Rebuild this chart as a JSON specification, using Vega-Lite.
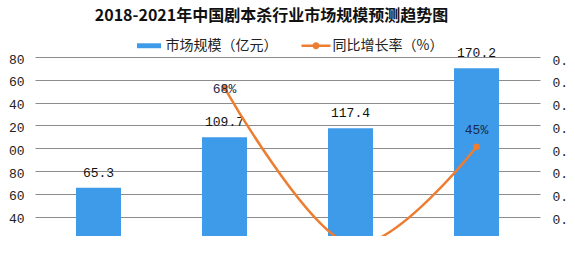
{
  "$schema": "https://vega.github.io/schema/vega-lite/v6.json",
  "width": 505,
  "height": 179,
  "autosize": {"type": "none"},
  "padding": {"left": 35, "top": 57, "right": 35, "bottom": 20},
  "background": "white",
  "config": {"view": {"stroke": null}, "font": "Noto Sans CJK SC"},
  "title": {
    "text": "2018-2021年中国剧本杀行业市场规模预测趋势图",
    "fontSize": 16,
    "fontWeight": "bold",
    "color": "#111111",
    "anchor": "middle",
    "dx": -16,
    "offset": 7
  },
  "data": {
    "values": [
      {"year": "2018", "scale": 65.3, "rate": null},
      {"year": "2019", "scale": 109.7, "rate": 0.68},
      {"year": "2020", "scale": 117.4, "rate": 0.07},
      {"year": "2021", "scale": 170.2, "rate": 0.45}
    ]
  },
  "encoding": {
    "x": {
      "field": "year",
      "type": "nominal",
      "axis": null,
      "scale": {"paddingInner": 0.643, "paddingOuter": 0.3255}
    }
  },
  "layer": [
    {
      "layer": [
        {
          "mark": {"type": "bar", "clip": true, "color": "#3D9BE9"},
          "encoding": {
            "y": {
              "field": "scale",
              "type": "quantitative",
              "scale": {"domain": [23, 180], "zero": false, "nice": false},
              "axis": {
                "values": [40, 60, 80, 100, 120, 140, 160, 180],
                "tickCount": 20,
                "labelExpr": "slice(toString(datum.value), -2)",
                "labelOverlap": false,
                "grid": true,
                "gridColor": "#8c8c8c",
                "gridWidth": 1,
                "ticks": false,
                "domain": false,
                "labelPadding": 11,
                "labelFont": "Liberation Mono",
                "labelFontSize": 13,
                "labelColor": "#222222",
                "labelOffset": 2,
                "labelBound": false,
                "title": null
              }
            },
            "color": {
              "datum": "市场规模（亿元）",
              "type": "nominal",
              "scale": {
                "domain": ["市场规模（亿元）", "同比增长率（%）"],
                "range": ["#3D9BE9", "#ED7D31"]
              },
              "legend": {
                "orient": "none",
                "legendX": 99.5,
                "legendY": -26,
                "direction": "horizontal",
                "title": null,
                "symbolSize": 841,
                "labelFontSize": 14,
                "labelFont": "Noto Sans CJK SC",
                "labelColor": "#222222",
                "labelOffset": 2,
                "columnPadding": 24,
                "padding": 0,
                "encode": {
                  "symbols": {
                    "update": {
                      "shape": {"signal": "datum.value === '市场规模（亿元）' ? 'M-0.83,-0.17H0.83V0.17H-0.83Z' : 'M-1,-0.09H1V0.09H-1Z M-0.24,0A0.24,0.24,0,1,1,0.24,0A0.24,0.24,0,1,1,-0.24,0Z'"},
                      "fill": {"signal": "datum.value === '市场规模（亿元）' ? '#3D9BE9' : '#ED7D31'"},
                      "stroke": {"value": "transparent"},
                      "strokeWidth": {"value": 0},
                      "opacity": {"value": 1}
                    }
                  }
                }
              }
            }
          }
        },
        {
          "mark": {"type": "text", "baseline": "bottom", "dy": -8, "font": "Liberation Mono", "fontSize": 13, "color": "#111111"},
          "encoding": {
            "y": {"field": "scale", "type": "quantitative"},
            "text": {"field": "scale", "type": "quantitative", "format": ".1f"}
          }
        }
      ]
    },
    {
      "layer": [
        {
          "mark": {"type": "line", "clip": true, "interpolate": "cardinal", "strokeWidth": 2.5},
          "encoding": {
            "y": {
              "field": "rate",
              "type": "quantitative",
              "scale": {"domain": [0.1018, 0.8], "zero": false, "nice": false},
              "axis": {
                "orient": "right",
                "values": [0.1778, 0.2667, 0.3556, 0.4444, 0.5333, 0.6222, 0.7111, 0.8],
                "tickCount": 20,
                "labelExpr": "'0.'",
                "labelOverlap": false,
                "grid": false,
                "ticks": false,
                "domain": false,
                "labelPadding": 12,
                "labelFont": "Liberation Mono",
                "labelFontSize": 13,
                "labelColor": "#222222",
                "labelOffset": 3,
                "labelBound": false,
                "title": null
              }
            },
            "color": {"datum": "同比增长率（%）", "type": "nominal"}
          }
        },
        {
          "mark": {"type": "point", "clip": true, "filled": true, "size": 45, "opacity": 1, "color": "#ED7D31"},
          "encoding": {"y": {"field": "rate", "type": "quantitative"}}
        },
        {
          "transform": [{"filter": "datum.year === '2021'"}],
          "mark": {"type": "text", "dy": -17, "font": "Liberation Mono", "fontSize": 13, "color": "#1a2a4a"},
          "encoding": {
            "y": {"field": "rate", "type": "quantitative"},
            "text": {"field": "rate", "type": "quantitative", "format": ".0%"}
          }
        },
        {
          "transform": [{"filter": "datum.year === '2019'"}],
          "mark": {"type": "text", "dy": 1, "font": "Liberation Mono", "fontSize": 13, "color": "#1a2a4a"},
          "encoding": {
            "y": {"field": "rate", "type": "quantitative"},
            "text": {"field": "rate", "type": "quantitative", "format": ".0%"}
          }
        }
      ]
    }
  ],
  "resolve": {"scale": {"y": "independent"}}
}
